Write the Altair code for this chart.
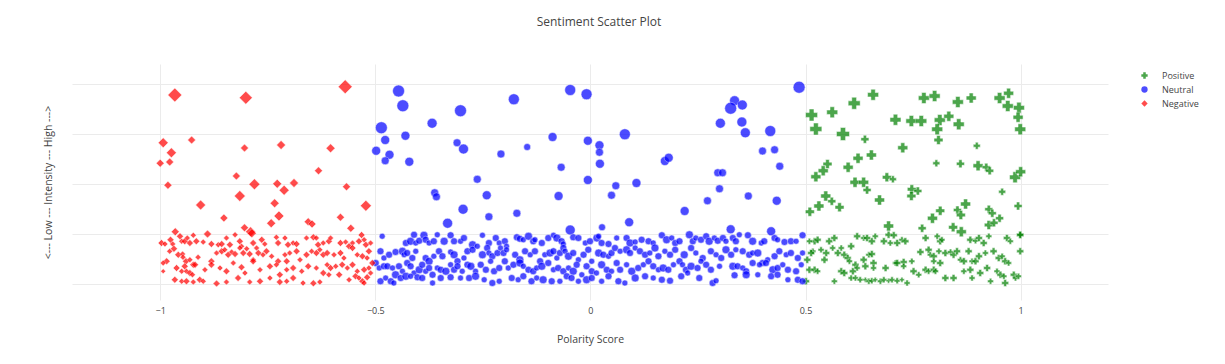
import altair as alt
import pandas as pd

# Each point: (polarity score, intensity, marker size)
NEGATIVE = [
    (-0.966, 0.756, 14), (-0.801, 0.745, 13), (-0.570, 0.789, 14), (-0.993, 0.565, 10),
    (-0.927, 0.576, 8), (-0.974, 0.525, 10), (-1.000, 0.483, 8), (-0.978, 0.488, 8),
    (-0.804, 0.544, 8), (-0.719, 0.556, 9), (-0.604, 0.543, 9), (-0.632, 0.453, 8),
    (-0.823, 0.432, 8), (-0.982, 0.395, 8), (-0.781, 0.399, 11), (-0.728, 0.401, 9),
    (-0.689, 0.404, 9), (-0.712, 0.375, 10), (-0.567, 0.389, 8), (-0.815, 0.352, 11),
    (-0.906, 0.316, 10), (-0.734, 0.323, 9), (-0.522, 0.313, 11), (-0.852, 0.264, 8),
    (-0.724, 0.272, 10), (-0.581, 0.267, 8), (-0.656, 0.249, 8), (-0.647, 0.240, 8),
    (-0.742, 0.243, 9), (-0.804, 0.225, 8), (-0.790, 0.209, 10), (-0.787, 0.203, 9),
    (-0.557, 0.223, 8), (-0.965, 0.209, 8), (-0.890, 0.200, 8), (-0.532, 0.196, 7),
    (-0.997, 0.164, 7), (-0.989, 0.160, 6), (-0.976, 0.177, 7), (-0.971, 0.160, 6),
    (-0.954, 0.191, 7), (-0.950, 0.171, 6), (-0.943, 0.171, 7), (-0.937, 0.184, 6),
    (-0.931, 0.164, 7), (-0.923, 0.195, 6), (-0.916, 0.171, 7), (-0.900, 0.168, 6),
    (-0.881, 0.160, 7), (-0.865, 0.157, 6), (-0.857, 0.160, 7), (-0.846, 0.184, 6),
    (-0.838, 0.157, 7), (-0.826, 0.197, 6), (-0.815, 0.171, 7), (-0.811, 0.151, 6),
    (-0.784, 0.164, 7), (-0.776, 0.144, 6), (-0.764, 0.177, 7), (-0.757, 0.160, 6),
    (-0.730, 0.187, 6), (-0.726, 0.164, 7), (-0.710, 0.184, 6), (-0.703, 0.157, 7),
    (-0.691, 0.164, 6), (-0.683, 0.160, 7), (-0.660, 0.184, 6), (-0.644, 0.187, 7),
    (-0.637, 0.184, 6), (-0.633, 0.157, 7), (-0.621, 0.164, 6),
    (-0.985, 0.091, 7), (-0.978, 0.131, 6), (-0.968, 0.141, 7), (-0.958, 0.117, 7),
    (-0.948, 0.120, 6), (-0.947, 0.107, 6), (-0.940, 0.091, 7), (-0.931, 0.097, 6),
    (-0.923, 0.077, 7), (-0.912, 0.107, 6), (-0.881, 0.091, 7), (-0.869, 0.124, 6),
    (-0.857, 0.131, 7), (-0.850, 0.137, 6), (-0.842, 0.117, 7), (-0.834, 0.128, 6),
    (-0.826, 0.120, 7), (-0.815, 0.144, 6), (-0.807, 0.124, 7), (-0.799, 0.141, 6),
    (-0.792, 0.120, 7), (-0.784, 0.097, 6), (-0.772, 0.124, 7), (-0.761, 0.117, 6),
    (-0.753, 0.131, 7), (-0.741, 0.111, 6), (-0.726, 0.091, 7), (-0.710, 0.117, 6),
    (-0.706, 0.091, 7), (-0.699, 0.124, 6), (-0.683, 0.131, 7), (-0.675, 0.097, 6),
    (-0.660, 0.117, 7), (-0.648, 0.131, 6), (-0.637, 0.124, 7), (-0.629, 0.137, 6),
    (-0.621, 0.117, 7),
    (-0.993, 0.084, 6), (-0.993, 0.051, 5), (-0.962, 0.064, 7), (-0.950, 0.051, 6),
    (-0.943, 0.071, 7), (-0.939, 0.051, 6), (-0.931, 0.044, 7), (-0.925, 0.037, 6),
    (-0.919, 0.077, 7), (-0.896, 0.057, 6), (-0.881, 0.077, 7), (-0.861, 0.064, 6),
    (-0.846, 0.051, 7), (-0.830, 0.084, 6), (-0.811, 0.067, 7), (-0.803, 0.044, 6),
    (-0.784, 0.091, 7), (-0.768, 0.057, 6), (-0.745, 0.071, 7), (-0.730, 0.077, 6),
    (-0.722, 0.037, 7), (-0.706, 0.057, 6), (-0.691, 0.064, 7), (-0.671, 0.051, 6),
    (-0.656, 0.071, 7), (-0.637, 0.064, 6), (-0.621, 0.044, 7),
    (-0.966, 0.017, 7), (-0.950, 0.011, 6), (-0.939, 0.011, 7), (-0.923, 0.008, 6),
    (-0.908, 0.017, 7), (-0.900, 0.011, 6), (-0.869, 0.002, 7), (-0.846, 0.008, 6),
    (-0.819, 0.024, 7), (-0.792, 0.008, 6), (-0.768, 0.011, 7), (-0.745, 0.024, 6),
    (-0.722, 0.008, 7), (-0.706, 0.011, 6), (-0.691, 0.024, 7), (-0.668, 0.004, 6),
    (-0.644, 0.003, 7), (-0.629, 0.008, 6),
    (-0.608, 0.171, 7), (-0.604, 0.184, 6), (-0.581, 0.164, 7), (-0.569, 0.168, 6),
    (-0.561, 0.151, 7), (-0.553, 0.164, 6), (-0.538, 0.171, 7), (-0.526, 0.177, 6),
    (-0.522, 0.157, 7), (-0.511, 0.164, 6), (-0.612, 0.124, 7), (-0.596, 0.117, 6),
    (-0.581, 0.124, 7), (-0.573, 0.104, 6), (-0.553, 0.144, 7), (-0.542, 0.117, 6),
    (-0.530, 0.111, 7), (-0.519, 0.104, 6), (-0.515, 0.131, 7), (-0.612, 0.077, 6),
    (-0.604, 0.064, 7), (-0.592, 0.071, 6), (-0.577, 0.077, 7), (-0.565, 0.064, 6),
    (-0.553, 0.077, 7), (-0.542, 0.051, 6), (-0.526, 0.057, 7), (-0.515, 0.064, 6),
    (-0.507, 0.084, 7), (-0.608, 0.037, 6), (-0.584, 0.037, 7), (-0.561, 0.017, 6),
    (-0.546, 0.031, 7), (-0.538, 0.024, 6), (-0.530, 0.011, 7), (-0.526, 0.004, 6),
    (-0.519, 0.027, 7), (-0.511, 0.044, 6),
]

NEUTRAL = [
    (-0.446, 0.772, 12), (-0.436, 0.713, 12), (-0.302, 0.693, 12), (-0.178, 0.739, 11),
    (-0.047, 0.776, 11), (-0.009, 0.759, 11), (-0.486, 0.625, 12), (-0.477, 0.576, 9),
    (-0.430, 0.593, 9), (-0.368, 0.643, 10), (-0.498, 0.533, 9), (-0.467, 0.517, 9),
    (-0.477, 0.493, 8), (-0.421, 0.489, 9), (-0.310, 0.565, 8), (-0.295, 0.540, 10),
    (-0.208, 0.520, 8), (-0.147, 0.548, 7), (-0.088, 0.588, 9), (-0.006, 0.573, 9),
    (-0.068, 0.467, 8), (-0.006, 0.416, 9), (-0.263, 0.419, 8), (-0.362, 0.365, 8),
    (-0.358, 0.349, 8), (-0.241, 0.355, 9), (-0.074, 0.352, 9), (-0.296, 0.299, 10),
    (-0.236, 0.269, 8), (-0.171, 0.283, 8), (-0.332, 0.243, 10), (-0.047, 0.216, 10),
    (0.485, 0.787, 12), (0.335, 0.733, 10), (0.326, 0.703, 12), (0.353, 0.716, 10),
    (0.352, 0.648, 10), (0.302, 0.643, 10), (0.360, 0.605, 10), (0.418, 0.612, 11),
    (0.080, 0.599, 11), (0.021, 0.555, 9), (0.021, 0.527, 8), (0.022, 0.481, 9),
    (0.400, 0.532, 8), (0.428, 0.537, 8), (0.440, 0.471, 8), (0.173, 0.492, 9),
    (0.182, 0.505, 9), (0.296, 0.445, 8), (0.307, 0.445, 8), (0.300, 0.381, 8),
    (0.059, 0.393, 8), (0.049, 0.355, 8), (0.107, 0.404, 9), (0.367, 0.352, 8),
    (0.272, 0.333, 8), (0.433, 0.333, 9), (0.219, 0.292, 9), (0.090, 0.247, 9),
    (0.027, 0.227, 7), (0.326, 0.219, 9), (0.420, 0.211, 9),
    (-0.484, 0.191, 6), (-0.429, 0.164, 7), (-0.418, 0.171, 8), (-0.410, 0.197, 7),
    (-0.406, 0.164, 6), (-0.398, 0.173, 7), (-0.387, 0.195, 8), (-0.383, 0.177, 7),
    (-0.375, 0.164, 6), (-0.364, 0.171, 7), (-0.356, 0.197, 6), (-0.340, 0.171, 8),
    (-0.325, 0.195, 7), (-0.317, 0.171, 7), (-0.302, 0.171, 6), (-0.294, 0.184, 7),
    (-0.274, 0.157, 8), (-0.251, 0.195, 6), (-0.236, 0.164, 7), (-0.220, 0.184, 7),
    (-0.212, 0.164, 6),
    (-0.488, 0.131, 7), (-0.480, 0.104, 6), (-0.468, 0.117, 7), (-0.453, 0.128, 7),
    (-0.437, 0.131, 8), (-0.433, 0.117, 6), (-0.426, 0.124, 7), (-0.414, 0.104, 7),
    (-0.406, 0.131, 6), (-0.383, 0.104, 7), (-0.375, 0.091, 8), (-0.364, 0.111, 6),
    (-0.352, 0.131, 7), (-0.344, 0.111, 7), (-0.325, 0.128, 6), (-0.317, 0.117, 8),
    (-0.309, 0.091, 7), (-0.294, 0.104, 6), (-0.286, 0.131, 7), (-0.274, 0.137, 7),
    (-0.263, 0.151, 6), (-0.251, 0.117, 8), (-0.240, 0.144, 7), (-0.236, 0.124, 6),
    (-0.228, 0.111, 7), (-0.216, 0.124, 7), (-0.209, 0.144, 6),
    (-0.499, 0.084, 7), (-0.491, 0.064, 6), (-0.480, 0.071, 7), (-0.472, 0.071, 7),
    (-0.460, 0.064, 6), (-0.453, 0.037, 8), (-0.445, 0.071, 7), (-0.437, 0.051, 6),
    (-0.426, 0.084, 7), (-0.418, 0.071, 7), (-0.410, 0.044, 6), (-0.398, 0.057, 8),
    (-0.391, 0.077, 7), (-0.383, 0.051, 6), (-0.375, 0.064, 7), (-0.367, 0.037, 7),
    (-0.356, 0.064, 6), (-0.348, 0.057, 7), (-0.336, 0.051, 8), (-0.325, 0.077, 6),
    (-0.317, 0.057, 7), (-0.309, 0.071, 7), (-0.298, 0.051, 6), (-0.286, 0.077, 7),
    (-0.278, 0.071, 8), (-0.267, 0.051, 6), (-0.255, 0.077, 7), (-0.243, 0.057, 7),
    (-0.232, 0.091, 6), (-0.224, 0.051, 7), (-0.212, 0.064, 7),
    (-0.488, 0.011, 7), (-0.476, 0.024, 6), (-0.464, 0.011, 7), (-0.457, 0.004, 6),
    (-0.441, 0.024, 7), (-0.429, 0.031, 8), (-0.418, 0.031, 6), (-0.402, 0.027, 7),
    (-0.391, 0.024, 7), (-0.367, 0.004, 6), (-0.348, 0.024, 7), (-0.325, 0.027, 7),
    (-0.302, 0.024, 6), (-0.282, 0.024, 7), (-0.267, 0.031, 8), (-0.247, 0.017, 6),
    (-0.228, 0.004, 7), (-0.212, 0.011, 6),
    (-0.199, 0.171, 7), (-0.195, 0.151, 6), (-0.171, 0.187, 7), (-0.164, 0.181, 7),
    (-0.156, 0.177, 6), (-0.144, 0.191, 8), (-0.133, 0.171, 7), (-0.129, 0.177, 6),
    (-0.113, 0.164, 7), (-0.098, 0.184, 7), (-0.086, 0.195, 6), (-0.078, 0.184, 8),
    (-0.067, 0.171, 7), (-0.063, 0.160, 6), (-0.040, 0.187, 7), (-0.028, 0.184, 7),
    (-0.012, 0.164, 6), (-0.001, 0.171, 7), (0.015, 0.184, 8), (0.019, 0.191, 6),
    (0.026, 0.164, 7), (0.042, 0.160, 7), (0.061, 0.184, 6), (0.084, 0.184, 7),
    (0.092, 0.164, 8), (0.104, 0.168, 6), (0.119, 0.177, 7), (0.135, 0.171, 7),
    (0.146, 0.164, 6), (0.166, 0.195, 7), (0.177, 0.177, 8), (0.189, 0.184, 6),
    (0.197, 0.164, 7),
    (-0.202, 0.124, 7), (-0.195, 0.137, 6), (-0.175, 0.117, 7), (-0.164, 0.097, 8),
    (-0.152, 0.131, 7), (-0.140, 0.117, 6), (-0.129, 0.131, 7), (-0.117, 0.091, 7),
    (-0.106, 0.117, 6), (-0.094, 0.124, 8), (-0.086, 0.131, 7), (-0.078, 0.104, 6),
    (-0.071, 0.124, 7), (-0.063, 0.144, 7), (-0.059, 0.131, 6), (-0.051, 0.111, 8),
    (-0.040, 0.124, 7), (-0.028, 0.097, 6), (-0.016, 0.117, 7), (-0.005, 0.137, 7),
    (0.003, 0.091, 6), (0.019, 0.124, 8), (0.030, 0.117, 7), (0.042, 0.111, 6),
    (0.049, 0.124, 7), (0.057, 0.144, 7), (0.069, 0.131, 6), (0.084, 0.137, 8),
    (0.092, 0.124, 7), (0.104, 0.144, 6), (0.115, 0.131, 7), (0.127, 0.117, 7),
    (0.138, 0.124, 6), (0.150, 0.144, 8), (0.158, 0.111, 7), (0.173, 0.131, 6),
    (0.185, 0.117, 7), (0.197, 0.137, 7),
    (-0.199, 0.091, 7), (-0.191, 0.064, 6), (-0.179, 0.077, 7), (-0.164, 0.084, 8),
    (-0.156, 0.071, 6), (-0.144, 0.057, 7), (-0.133, 0.051, 7), (-0.125, 0.064, 6),
    (-0.113, 0.071, 8), (-0.098, 0.084, 7), (-0.086, 0.057, 6), (-0.075, 0.064, 7),
    (-0.063, 0.051, 7), (-0.051, 0.064, 6), (-0.040, 0.051, 8), (-0.032, 0.077, 7),
    (-0.020, 0.037, 6), (-0.009, 0.071, 7), (0.003, 0.051, 7), (0.014, 0.044, 6),
    (0.026, 0.077, 8), (0.038, 0.057, 7), (0.049, 0.051, 6), (0.061, 0.084, 7),
    (0.069, 0.057, 7), (0.084, 0.077, 6), (0.096, 0.051, 8), (0.111, 0.064, 7),
    (0.123, 0.077, 6), (0.135, 0.091, 7), (0.146, 0.071, 7), (0.158, 0.057, 6),
    (0.169, 0.064, 8), (0.181, 0.057, 7), (0.193, 0.077, 6),
    (-0.183, 0.024, 7), (-0.168, 0.017, 6), (-0.156, 0.031, 7), (-0.137, 0.011, 7),
    (-0.125, 0.024, 6), (-0.110, 0.017, 8), (-0.090, 0.011, 7), (-0.071, 0.011, 6),
    (-0.055, 0.031, 7), (-0.044, 0.024, 7), (-0.028, 0.011, 6), (-0.009, 0.017, 8),
    (0.003, 0.024, 7), (0.026, 0.011, 6), (0.042, 0.031, 7), (0.065, 0.011, 7),
    (0.080, 0.004, 6), (0.104, 0.024, 8), (0.127, 0.031, 7), (0.146, 0.024, 6),
    (0.166, 0.017, 7), (0.185, 0.013, 7),
    (0.207, 0.171, 7), (0.230, 0.197, 8), (0.238, 0.171, 7), (0.245, 0.184, 6),
    (0.257, 0.177, 7), (0.269, 0.191, 7), (0.276, 0.171, 8), (0.288, 0.184, 6),
    (0.296, 0.173, 7), (0.308, 0.184, 7), (0.315, 0.171, 6), (0.331, 0.184, 7),
    (0.338, 0.171, 7), (0.346, 0.197, 6), (0.366, 0.195, 7), (0.377, 0.171, 8),
    (0.397, 0.164, 6), (0.404, 0.171, 7), (0.428, 0.184, 7), (0.435, 0.177, 6),
    (0.451, 0.168, 7), (0.466, 0.171, 7), (0.478, 0.171, 6), (0.493, 0.195, 7),
    (0.218, 0.117, 8), (0.234, 0.144, 7), (0.245, 0.124, 6), (0.261, 0.104, 7),
    (0.280, 0.131, 7), (0.292, 0.117, 6), (0.304, 0.104, 7), (0.315, 0.137, 8),
    (0.327, 0.117, 7), (0.338, 0.137, 6), (0.354, 0.131, 7), (0.369, 0.117, 7),
    (0.377, 0.124, 6), (0.389, 0.124, 8), (0.400, 0.084, 7), (0.412, 0.097, 6),
    (0.428, 0.111, 7), (0.439, 0.131, 7), (0.455, 0.117, 6), (0.466, 0.124, 7),
    (0.482, 0.104, 7), (0.493, 0.124, 6),
    (0.207, 0.091, 7), (0.214, 0.077, 6), (0.222, 0.057, 7), (0.234, 0.071, 8),
    (0.249, 0.064, 7), (0.257, 0.091, 6), (0.269, 0.077, 7), (0.280, 0.057, 7),
    (0.300, 0.071, 6), (0.331, 0.071, 8), (0.342, 0.071, 7), (0.354, 0.064, 6),
    (0.362, 0.051, 7), (0.377, 0.084, 7), (0.393, 0.077, 6), (0.408, 0.084, 7),
    (0.424, 0.057, 8), (0.435, 0.064, 7), (0.447, 0.077, 6), (0.459, 0.057, 7),
    (0.478, 0.051, 7), (0.490, 0.077, 6),
    (0.211, 0.031, 7), (0.226, 0.044, 6), (0.253, 0.024, 7), (0.284, 0.004, 7),
    (0.292, 0.013, 6), (0.335, 0.035, 7), (0.362, 0.037, 8), (0.389, 0.037, 6),
    (0.420, 0.031, 7), (0.435, 0.037, 7), (0.459, 0.017, 6), (0.482, 0.017, 7),
    (0.493, 0.011, 7),
]

POSITIVE = [
    (0.514, 0.676, 12), (0.562, 0.687, 11), (0.613, 0.723, 12), (0.657, 0.757, 11),
    (0.524, 0.620, 12), (0.587, 0.600, 13), (0.638, 0.579, 8), (0.709, 0.657, 11),
    (0.746, 0.652, 11), (0.769, 0.652, 11), (0.775, 0.744, 11), (0.800, 0.752, 11),
    (0.854, 0.728, 11), (0.885, 0.744, 10), (0.951, 0.744, 11), (0.972, 0.763, 10),
    (0.970, 0.712, 11), (0.996, 0.705, 11), (0.994, 0.667, 10), (0.999, 0.619, 11),
    (0.812, 0.656, 11), (0.833, 0.671, 10), (0.806, 0.619, 11), (0.809, 0.576, 9),
    (0.856, 0.639, 11), (0.726, 0.545, 10), (0.898, 0.553, 7), (0.653, 0.516, 10),
    (0.622, 0.503, 10), (0.551, 0.480, 9), (0.541, 0.453, 10), (0.524, 0.429, 10),
    (0.599, 0.467, 10), (0.689, 0.427, 9), (0.703, 0.419, 7), (0.615, 0.407, 10),
    (0.635, 0.407, 10), (0.643, 0.376, 8), (0.804, 0.483, 7), (0.860, 0.481, 8),
    (0.901, 0.473, 10), (0.920, 0.467, 8), (0.928, 0.453, 8), (0.987, 0.427, 11),
    (1.000, 0.449, 10), (0.747, 0.379, 9), (0.761, 0.372, 8), (0.746, 0.352, 9),
    (0.957, 0.369, 7), (0.547, 0.352, 10), (0.561, 0.331, 8), (0.579, 0.307, 9),
    (0.531, 0.312, 10), (0.510, 0.289, 9), (0.672, 0.336, 10), (0.994, 0.312, 8),
    (0.872, 0.320, 10), (0.813, 0.293, 9), (0.853, 0.296, 8), (0.861, 0.276, 9),
    (0.926, 0.299, 8), (0.934, 0.283, 8), (0.951, 0.263, 8), (0.795, 0.263, 10),
    (0.926, 0.236, 9), (0.938, 0.245, 8), (0.693, 0.232, 10), (0.771, 0.223, 8),
    (0.843, 0.227, 9), (0.862, 0.209, 10), (0.999, 0.196, 7),
    (0.504, 0.097, 7), (0.517, 0.131, 6), (0.521, 0.171, 7), (0.528, 0.177, 7),
    (0.536, 0.137, 6), (0.548, 0.124, 7), (0.555, 0.171, 7), (0.563, 0.144, 6),
    (0.567, 0.184, 7), (0.575, 0.124, 7), (0.583, 0.144, 6), (0.590, 0.117, 7),
    (0.598, 0.104, 7), (0.602, 0.091, 6), (0.606, 0.151, 7), (0.509, 0.057, 7),
    (0.521, 0.057, 7), (0.528, 0.051, 6), (0.501, 0.011, 7), (0.567, 0.011, 6),
    (0.583, 0.051, 7), (0.590, 0.044, 7), (0.606, 0.024, 6), (0.610, 0.051, 7),
    (0.544, 0.097, 7), (0.509, 0.171, 6), (0.513, 0.124, 7),
    (0.620, 0.191, 7), (0.635, 0.184, 6), (0.643, 0.184, 7), (0.654, 0.171, 7),
    (0.662, 0.191, 6), (0.682, 0.171, 7), (0.693, 0.197, 7), (0.697, 0.164, 6),
    (0.705, 0.195, 7), (0.713, 0.164, 7), (0.724, 0.177, 6), (0.732, 0.171, 7),
    (0.779, 0.184, 7), (0.806, 0.191, 6), (0.813, 0.171, 7), (0.817, 0.177, 6),
    (0.883, 0.177, 7), (0.895, 0.173, 6), (0.903, 0.184, 7), (0.914, 0.164, 7),
    (0.926, 0.191, 6), (0.968, 0.184, 7), (0.976, 0.171, 6), (0.999, 0.197, 7),
    (0.635, 0.097, 7), (0.647, 0.117, 6), (0.654, 0.120, 7), (0.658, 0.084, 7),
    (0.709, 0.084, 6), (0.728, 0.088, 7), (0.747, 0.091, 6), (0.767, 0.128, 7),
    (0.786, 0.137, 7), (0.790, 0.117, 6), (0.798, 0.111, 7), (0.810, 0.131, 6),
    (0.825, 0.124, 7), (0.837, 0.128, 6), (0.844, 0.117, 7), (0.852, 0.131, 7),
    (0.860, 0.097, 6), (0.868, 0.091, 7), (0.879, 0.131, 7), (0.887, 0.091, 6),
    (0.895, 0.091, 7), (0.903, 0.111, 7), (0.918, 0.124, 6), (0.937, 0.131, 7),
    (0.949, 0.104, 7), (0.957, 0.111, 6), (0.964, 0.091, 7), (0.972, 0.084, 6),
    (0.999, 0.131, 7), (0.798, 0.091, 6), (0.813, 0.084, 7),
    (0.616, 0.077, 7), (0.620, 0.064, 6), (0.639, 0.071, 7), (0.658, 0.064, 6),
    (0.686, 0.064, 7), (0.713, 0.084, 7), (0.728, 0.071, 6), (0.751, 0.051, 7),
    (0.763, 0.037, 6), (0.779, 0.057, 7), (0.786, 0.051, 6), (0.798, 0.057, 7),
    (0.802, 0.051, 6), (0.825, 0.024, 7), (0.844, 0.024, 7), (0.868, 0.051, 6),
    (0.883, 0.057, 7), (0.887, 0.024, 6), (0.906, 0.044, 7), (0.922, 0.064, 7),
    (0.945, 0.051, 6), (0.953, 0.037, 7), (0.961, 0.031, 6), (0.984, 0.037, 7),
    (0.616, 0.024, 6), (0.627, 0.017, 6), (0.639, 0.017, 5), (0.647, 0.011, 6),
    (0.654, 0.013, 6), (0.662, 0.017, 5), (0.674, 0.011, 6), (0.682, 0.017, 6),
    (0.693, 0.013, 5), (0.701, 0.017, 6), (0.713, 0.013, 6), (0.724, 0.017, 5),
    (0.736, 0.004, 6), (0.930, 0.011, 6), (0.964, 0.004, 7), (0.988, 0.024, 6),
    (0.995, 0.031, 6),
]

SENTIMENTS = ["Positive", "Neutral", "Negative"]
COLORS = ["#008000", "#0000ff", "#ff0000"]
SHAPES = ["cross", "circle", "diamond"]
X_TICKS = [-1, -0.5, 0, 0.5, 1]
Y_GRID = [0, 0.2, 0.4, 0.6, 0.8]

rows = []
for name, pts in zip(SENTIMENTS, [POSITIVE, NEUTRAL, NEGATIVE]):
    for x, y, s in pts:
        rows.append({"Sentiment": name, "Polarity": x, "Intensity": y, "Size": s})
df = pd.DataFrame(rows)

FONT = "Open Sans"
TXT = "#444444"

leg = alt.Legend(
    orient="none", legendX=1068, legendY=7, title=None, padding=0,
    symbolSize=40, symbolOpacity=0.7, symbolStrokeWidth=0,
    labelFontSize=9, labelFont=FONT, labelColor=TXT, labelOffset=13, rowPadding=4,
)

chart = alt.Chart(df).mark_point(
    filled=True, opacity=0.7, stroke="white", strokeWidth=0.5
).encode(
    x=alt.X(
        "Polarity:Q",
        scale=alt.Scale(domain=[-1.205, 1.203], nice=False, zero=False),
        axis=alt.Axis(values=X_TICKS, format="~g", title="Polarity Score",
                      labelPadding=6, titlePadding=19),
    ),
    y=alt.Y(
        "Intensity:Q",
        scale=alt.Scale(domain=[-0.064, 0.88], nice=False, zero=False),
        axis=alt.Axis(values=Y_GRID, labels=False,
                      title="<--- Low --- Intensity --- High --->", titlePadding=19),
    ),
    color=alt.Color("Sentiment:N", scale=alt.Scale(domain=SENTIMENTS, range=COLORS), legend=leg),
    shape=alt.Shape("Sentiment:N", scale=alt.Scale(domain=SENTIMENTS, range=SHAPES), legend=leg),
    size=alt.Size("Size:Q", scale=alt.Scale(type="pow", exponent=2, domain=[0, 20], range=[0, 400]),
                  legend=None),
).properties(
    width=1036,
    height=236,
    autosize=alt.AutoSizeParams(type="none"),
    padding={"left": 64, "top": 56, "right": 105, "bottom": 50},
    title=alt.TitleParams(
        "Sentiment Scatter Plot", font=FONT, fontSize=12, fontWeight="normal", color=TXT,
        anchor="middle", frame="group", offset=26, baseline="alphabetic", dx=9,
    ),
).configure_view(stroke=None).configure_axis(
    grid=True, gridColor="#ebebeb", gridWidth=1, domain=False, ticks=False, tickSize=0,
    labelFont=FONT, labelFontSize=9, labelColor=TXT,
    titleFont=FONT, titleFontSize=10.5, titleFontWeight="normal", titleColor=TXT,
)

chart.save("out.html", embed_options={"renderer": "svg", "actions": False})
